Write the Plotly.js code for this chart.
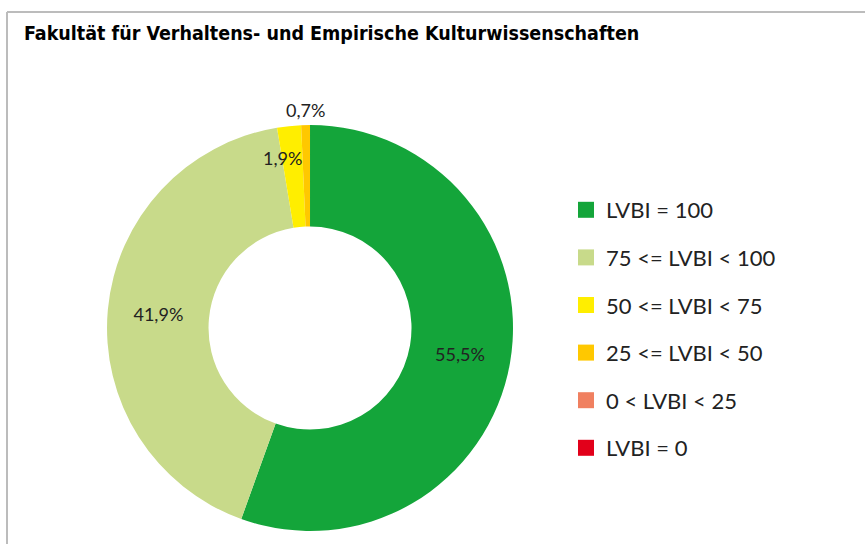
<!DOCTYPE html>
<html>
<head>
<meta charset="utf-8">
<script src="https://cdn.plot.ly/plotly-3.0.1.min.js"></script>
<style>html,body{margin:0;padding:0;background:#fff;}#chart{width:865px;height:544px;}</style>
</head>
<body>
<div id="chart"></div>
<script>
const titleText = "Fakultät für Verhaltens- und Empirische Kulturwissenschaften";
const categories = ["LVBI = 100", "75 <= LVBI < 100", "50 <= LVBI < 75", "25 <= LVBI < 50", "0 < LVBI < 25", "LVBI = 0"];
const shares = [55.5, 41.9, 1.9, 0.7, 0, 0];
const colors = ["#14a53a", "#c8da8a", "#ffee00", "#ffc800", "#f08060", "#e2001a"];
// how each slice's value label is drawn: native inside text, or an annotation placed from the slice angle
const labelModes = ["inside", "inside", "ring", "outer", "none", "none"];

const textFont = {family: "Lato, 'Noto Sans', sans-serif", size: 18, color: "#222", weight: 400};

// pie geometry in paper coordinates
const pieDomain = {x: [0.1237, 0.5931], y: [0.0239, 0.7702]};
const W = 865, H = 544;

const pieTrace = {
  type: "pie",
  labels: categories,
  values: shares,
  sort: false,
  direction: "clockwise",
  rotation: 0,
  hole: 0.5,
  marker: {colors: colors, line: {width: 0}},
  texttemplate: shares.map(v => v > 0 ? "%{percent:.1%}" : ""),
  textposition: labelModes.map(m => m === "inside" ? "inside" : "none"),
  insidetextorientation: "horizontal",
  textfont: textFont,
  insidetextfont: textFont,
  showlegend: false,
  domain: pieDomain
};

// annotations for the thin slices, positioned from the cumulative share
const total = shares.reduce((a, b) => a + b, 0);
const cx = (pieDomain.x[0] + pieDomain.x[1]) / 2 * W;
const cyFromBottom = (pieDomain.y[0] + pieDomain.y[1]) / 2 * H;
const R = Math.min((pieDomain.x[1] - pieDomain.x[0]) * W, (pieDomain.y[1] - pieDomain.y[0]) * H) / 2;
const annotations = [];
let cum = 0;
shares.forEach((v, i) => {
  const mid = (cum + v / 2) / total;
  cum += v;
  if (labelModes[i] !== "ring" && labelModes[i] !== "outer") return;
  const ang = mid * 2 * Math.PI;
  const r = labelModes[i] === "ring" ? R * 0.84 : R + 15;
  const px = cx + r * Math.sin(ang);
  const py = cyFromBottom + r * Math.cos(ang);
  annotations.push({
    xref: "paper", yref: "paper",
    x: px / W, y: py / H,
    xanchor: "center", yanchor: "middle",
    xshift: labelModes[i] === "ring" ? -10 : 0,
    text: (v).toFixed(1).replace(".", ",") + "%",
    showarrow: false,
    font: textFont
  });
});

const legendTraces = categories.map((c, i) => ({
  type: "scatter",
  mode: "markers",
  x: [null], y: [null],
  name: c,
  legendgroup: "g" + i,
  marker: {symbol: "square", size: 16, color: colors[i]},
  showlegend: true,
  hoverinfo: "skip"
}));

const layout = {
  width: W, height: H,
  margin: {l: 0, r: 0, t: 0, b: 0},
  paper_bgcolor: "#fff", plot_bgcolor: "rgba(0,0,0,0)",
  separators: ",.",
  title: {
    text: "<b>" + titleText + "</b>",
    x: 24/W, xanchor: "left", xref: "paper",
    y: 1 - 33/H, yanchor: "middle", yref: "paper",
    font: {family: "'Liberation Sans Narrow', 'DejaVu Sans Condensed', 'DejaVu Sans', sans-serif", size: 19.5, color: "#000", stretch: "condensed"}
  },
  xaxis: {visible: false, domain: [0.9, 0.95]},
  yaxis: {visible: false, domain: [0.9, 0.95]},
  showlegend: true,
  legend: {
    x: 566/W, xanchor: "left",
    y: 1 - 329/H, yanchor: "middle",
    traceorder: "grouped",
    tracegroupgap: 16,
    itemsizing: "trace",
    font: {family: "Lato, 'Noto Sans', sans-serif", size: 22, color: "#222", weight: 400},
    bgcolor: "rgba(0,0,0,0)"
  },
  uniformtext: {mode: "show", minsize: 18},
  annotations: annotations,
  shapes: [
    {type: "line", xref: "paper", yref: "paper", x0: 7/W, x1: 1, y0: 1 - 12/H, y1: 1 - 12/H, line: {color: "#bcbcbc", width: 2}},
    {type: "line", xref: "paper", yref: "paper", x0: 7/W, x1: 7/W, y0: 0, y1: 1 - 12/H, line: {color: "#bcbcbc", width: 2}}
  ]
};

Plotly.newPlot("chart", [pieTrace].concat(legendTraces), layout, {displayModeBar: false, staticPlot: true});
</script>
</body>
</html>
